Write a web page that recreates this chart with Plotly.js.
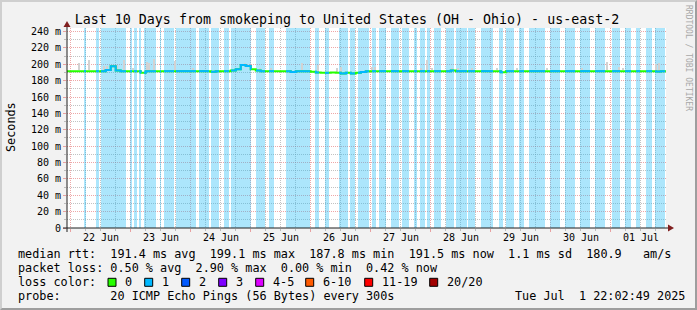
<!DOCTYPE html>
<html><head><meta charset="utf-8">
<script src="https://cdn.plot.ly/plotly-3.0.1.min.js"></script>
<style>
html,body{margin:0;padding:0;background:#f2f2f2;}
#wrap{position:relative;width:697px;height:310px;overflow:hidden;}
#chart{width:697px;height:310px;}
#frame{position:absolute;left:0;top:0;width:697px;height:310px;box-sizing:border-box;border-style:solid;border-width:2px;border-color:#cfcfcf #9e9e9e #9e9e9e #cfcfcf;pointer-events:none;}
</style></head>
<body><div id="wrap"><div id="chart"></div><div id="frame"></div></div>
<script>
// ---------- data ----------
const titleText = 'Last 10 Days from smokeping to United States (OH - Ohio) - us-east-2';
const xStart = '2025-06-21 22:31:00';
const xEnd = '2025-07-01 22:02:49';
const dayMidnights = ['2025-06-22','2025-06-23','2025-06-24','2025-06-25','2025-06-26','2025-06-27','2025-06-28','2025-06-29','2025-06-30','2025-07-01'];
const dayNoons = ['2025-06-22 12:00','2025-06-23 12:00','2025-06-24 12:00','2025-06-25 12:00','2025-06-26 12:00','2025-06-27 12:00','2025-06-28 12:00','2025-06-29 12:00','2025-06-30 12:00','2025-07-01 12:00'];
const dayLabels = ['22 Jun','23 Jun','24 Jun','25 Jun','26 Jun','27 Jun','28 Jun','29 Jun','30 Jun','01 Jul'];
const yTickValues = [0,20,40,60,80,100,120,140,160,180,200,220,240];
const yTickLabels = ['0','20 m','40 m','60 m','80 m','100 m','120 m','140 m','160 m','180 m','200 m','220 m','240 m'];
const yMinorValues = [10,30,50,70,90,110,130,150,170,190,210,230];
const yMax = 244.3;

// loss periods (1/20 lost), hours since 2025-06-22 00:00
const lossBandStartH = [5.3,10.1,12.1,23.7,25.3,27.3,29.3,35.7,37.3,42.1,51.3,56.1,61.3,64.1,74.1,79.3,86.1,97.7,101.7,107.3,111.7,114.9,120.5,123.3,128.1,132.5,137.3,139.7,142.5,145.3,150.1,154.1,158.9,164.1,171.3,174.1,179.3,183.3,191.7,197.7,203.7,209.7,216.5,221.7,226.1,230.1,233.7];
const lossBandEndH   = [6.1,11.3,22.1,24.5,26.5,28.1,34.1,36.1,41.3,50.1,55.3,59.3,63.3,72.1,77.7,81.3,95.7,99.3,103.3,110.9,113.7,119.3,122.1,126.1,131.3,135.3,138.5,141.7,143.7,148.1,153.3,158.5,161.7,168.9,172.9,177.3,181.3,189.7,195.7,201.7,207.7,213.7,219.7,224.1,227.7,232.5,237.7];

// median rtt (ms), one value per 2 h starting at -2 h
const medianStartH = -2;
const medianStepH = 2;
const medianRtt = [
 191.6,191.6,191.6,191.6,191.6,191.6,191.6,191.6,193.0,197.5,
 192.5,191.6,191.6,191.6,191.6,189.5,191.6,191.6,191.6,191.6,
 191.6,191.6,191.6,191.6,191.6,191.6,191.6,191.6,191.6,190.8,
 191.6,191.6,191.6,192.5,194.0,199.0,198.0,194.0,192.3,191.6,
 191.6,191.6,191.6,191.6,191.6,190.5,191.6,191.6,191.6,191.0,
 189.8,189.5,189.5,189.8,189.6,188.6,189.6,188.8,189.5,190.5,
 191.6,191.6,191.6,191.6,191.6,191.6,191.6,191.6,191.6,191.6,
 191.6,191.6,191.6,191.6,191.6,191.6,191.6,192.3,191.6,191.6,
 191.6,191.6,191.6,191.6,191.6,191.6,191.6,190.3,191.6,191.6,
 191.6,191.6,191.6,191.6,191.6,191.6,191.6,191.6,191.6,191.6,
 191.6,191.6,191.6,191.6,191.6,191.6,191.6,191.6,191.6,191.6,
 191.6,191.6,191.6,191.6,191.6,191.6,191.6,191.6,191.2,191.6,
 191.4];

// smoke spikes (hours since 2025-06-22 00:00, top of smoke in ms)
const smokeH   = [3.3,7.3,13.3,14.5,17.3,18.5,21.3,24.9,30.5,31.3,33.3,41.7,48.9,69.7,75.7,80.1,92.5,98.9,106.5,108.1,120.5,121.7,140.1,142.5,144.5,152.5,154.9,160.5,170.5,178.5,190.5,204.5,214.5,219.3,220.9,234.1,235.3];
const smokeTop = [201,205,198,198,199,199,205,196,203,201,207,204,196,201,196,196,201,199,196,197,197,197,196,205,196,196,196,196,196,196,196,196,203,197,196,200,201];

const lossColorLabels = ['0','1','2','3','4-5','6-10','11-19','20/20'];
const lossColors = ['#26ff00','#00b8ff','#0059ff','#7e00ff','#dd00ff','#ff5a00','#ff0000','#a10000'];

const statsRtt  = 'median rtt:  191.4 ms avg  199.1 ms max  187.8 ms min  191.5 ms now  1.1 ms sd  180.9   am/s';
const statsLoss = 'packet loss: 0.50 % avg  2.90 % max  0.00 % min  0.42 % now';
const lossColorTitle = 'loss color:';
const probeText = 'probe:       20 ICMP Echo Pings (56 Bytes) every 300s';
const stampText = 'Tue Jul  1 22:02:49 2025';
const yTitle = 'Seconds';
const sideText = 'RRDTOOL / TOBI OETIKER';

// ---------- helpers ----------
const hourMs = 3600000;
const originMs = Date.UTC(2025,5,22,0,0,0);
function hToDate(h){ return new Date(originMs + Math.round(h*hourMs)).toISOString().replace('T',' ').slice(0,19); }
function medianAt(h){
  let i = Math.floor((h - medianStartH)/medianStepH + 1e-9);
  i = Math.max(0, Math.min(medianRtt.length-1, i));
  return medianRtt[i];
}
const L = 67, R = 666, T = 28, B = 228;
function px(p){ return (p - L)/(R - L); }
function py(q){ return (B - q)/(B - T); }
function nb(s){ return s.replace(/ /g,'\u00a0'); }
const xMinorValues = [];
dayMidnights.forEach((d,i)=>{ [6,12,18].forEach(hh=>xMinorValues.push(hToDate(i*24+hh))); });

// ---------- traces ----------
const bandTrace = {
  type:'bar', x: lossBandStartH.map((s,i)=>hToDate((s+lossBandEndH[i])/2)),
  y: lossBandStartH.map(()=>yMax), base: lossBandStartH.map(()=>0),
  width: lossBandStartH.map((s,i)=>(lossBandEndH[i]-s)*hourMs),
  marker:{color:'rgba(40,190,246,0.39)', line:{width:0}}, hoverinfo:'skip'
};
const smokeTrace = {
  type:'bar', x: smokeH.map(hToDate),
  base: smokeH.map(h=>medianAt(h)+1),
  y: smokeH.map((h,i)=>smokeTop[i]-medianAt(h)-1),
  width: smokeH.map(()=>0.8*hourMs),
  marker:{color:'#d2d2d2', line:{width:0}}, hoverinfo:'skip'
};
const medX = medianRtt.map((v,i)=>hToDate(medianStartH + i*medianStepH));
const greenTrace = {
  type:'scatter', mode:'lines', x: medX, y: medianRtt,
  line:{color:lossColors[0], width:2, shape:'hv'}, hoverinfo:'skip'
};
const bx = [], by = [];
lossBandStartH.forEach((s,k)=>{
  const e = lossBandEndH[k];
  bx.push(hToDate(s)); by.push(medianAt(s));
  medianRtt.forEach((v,i)=>{
    const t = medianStartH + i*medianStepH;
    if (t > s && t < e){ bx.push(hToDate(t)); by.push(v); }
  });
  bx.push(hToDate(e)); by.push(medianAt(e-0.01));
  bx.push(null); by.push(null);
});
const blueTrace = {
  type:'scatter', mode:'lines', x: bx, y: by, connectgaps:false,
  line:{color:lossColors[1], width:2, shape:'hv'}, hoverinfo:'skip'
};

// ---------- annotations & shapes ----------
const mono = 'DejaVu Sans Mono';
const ann = [];
dayLabels.forEach((lab,i)=>ann.push({xref:'x', yref:'paper', x: dayNoons[i], y: py(237.5), text: lab,
  showarrow:false, xanchor:'center', yanchor:'middle', font:{family:mono, size:10, color:'#000'}}));
function textAt(s, x, y, size, anchor){
  ann.push({xref:'paper', yref:'paper', x:px(x), y:py(y), text:nb(s), showarrow:false,
    xanchor:anchor||'left', yanchor:'middle', font:{family:mono, size:size||11.8, color:'#000'}});
}
textAt(statsRtt, 16, 254);
textAt(statsLoss, 16, 268.3);
textAt(lossColorTitle, 16, 282.3);
textAt(probeText, 16, 296);
textAt(stampText, 513, 296);
ann.push({xref:'paper', yref:'paper', x:px(11), y:py(127), text:yTitle, textangle:-90, showarrow:false,
  xanchor:'center', yanchor:'middle', font:{family:mono, size:11.8, color:'#000'}});
ann.push({xref:'paper', yref:'paper', x:px(689), y:py(58), text:nb(sideText), textangle:90, showarrow:false,
  xanchor:'center', yanchor:'middle', font:{family:mono, size:8, color:'#a8a8a8'}});

const labelX = [123.3,160,197,234,271,321,380,445];
const shapes = [];
lossColorLabels.forEach((lab,i)=>{
  textAt(lab, labelX[i], 282.3);
  shapes.push({type:'rect', xref:'paper', yref:'paper', x0:px(labelX[i]-15.3), x1:px(labelX[i]-7.3),
    y0:py(286.3), y1:py(278.3), fillcolor:lossColors[i], line:{color:'#000', width:1}});
});
// axes + arrows
shapes.push({type:'line', xref:'paper', yref:'paper', x0:px(63), x1:px(670), y0:py(228), y1:py(228), line:{color:'#1f1f1f', width:1}});
shapes.push({type:'line', xref:'paper', yref:'paper', x0:px(67), x1:px(67), y0:py(232), y1:py(24), line:{color:'#1f1f1f', width:1}});
shapes.push({type:'path', xref:'paper', yref:'paper',
  path:`M ${px(668)} ${py(224.5)} L ${px(668)} ${py(231.5)} L ${px(674)} ${py(228)} Z`, fillcolor:'#801f1f', line:{width:0}});
shapes.push({type:'path', xref:'paper', yref:'paper',
  path:`M ${px(63.5)} ${py(27)} L ${px(70.5)} ${py(27)} L ${px(67)} ${py(21)} Z`, fillcolor:'#801f1f', line:{width:0}});

const gridMajor = 'rgba(222,79,79,0.5)', gridMinor = 'rgba(143,143,143,0.55)';
const layout = {
  width:697, height:310,
  margin:{l:L, r:697-R, t:T, b:310-B, pad:0},
  paper_bgcolor:'#f2f2f2', plot_bgcolor:'#ffffff',
  showlegend:false, barmode:'overlay', bargap:0,
  font:{family:mono, size:10, color:'#000'},
  title:{text:titleText, font:{family:mono, size:13.3, color:'#000'}, x:347/697, xanchor:'center', y:1-19.5/310, yanchor:'middle'},
  xaxis:{type:'date', range:[xStart,xEnd], tickmode:'array', tickvals:dayMidnights, ticktext:dayMidnights.map(()=>''),
    showgrid:true, gridcolor:gridMajor, griddash:'1px,1px', gridwidth:1,
    ticks:'outside', ticklen:3, tickcolor:gridMajor, showline:false, zeroline:false, fixedrange:true,
    minor:{tickmode:'array', tickvals:xMinorValues, showgrid:true, gridcolor:gridMinor, griddash:'1px,1px', ticks:'outside', ticklen:2, tickcolor:gridMinor}},
  yaxis:{range:[0,yMax], tickmode:'array', tickvals:yTickValues, ticktext:yTickLabels,
    showgrid:true, gridcolor:gridMajor, griddash:'1px,1px', gridwidth:1,
    ticks:'outside', ticklen:3, tickcolor:gridMajor, showline:false, zeroline:false, fixedrange:true,
    tickfont:{family:mono, size:10, color:'#000'},
    minor:{tickmode:'array', tickvals:yMinorValues, showgrid:true, gridcolor:gridMinor, griddash:'1px,1px', ticks:'outside', ticklen:2, tickcolor:gridMinor}},
  annotations: ann, shapes: shapes
};
Plotly.newPlot('chart', [bandTrace, smokeTrace, greenTrace, blueTrace], layout, {staticPlot:true, displayModeBar:false});
</script></body></html>
